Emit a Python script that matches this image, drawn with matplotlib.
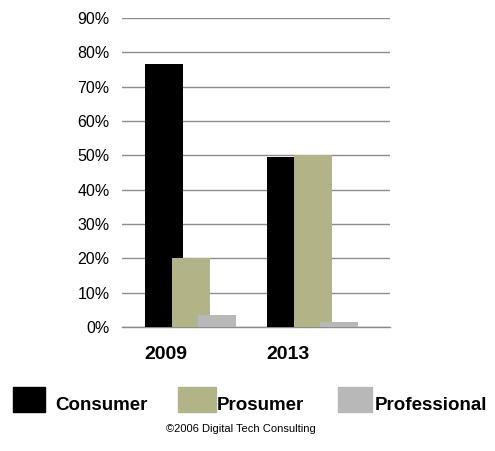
import numpy as np
import matplotlib
matplotlib.use('Agg')
import matplotlib.pyplot as plt
from matplotlib.patches import Rectangle

plt.rcParams['font.family'] = ['Liberation Sans', 'DejaVu Sans']

# Data
years = ['2009', '2013']
series = ['Consumer', 'Prosumer', 'Professional']
consumer = [0.765, 0.495]
prosumer = [0.20, 0.50]
professional = [0.035, 0.015]
colors = ['#000000', '#B2B488', '#B8B8B8']
yticks = np.arange(0, 0.91, 0.1)

fig = plt.figure(figsize=(4.95, 4.51), dpi=100)
ax = fig.add_axes([0.2465, 0.275, 0.5415, 0.685])

x = np.arange(len(years))
width = 0.31
offsets = [-0.017, 0.204, 0.416]
for vals, off, col, name in zip([consumer, prosumer, professional], offsets, colors, series):
    ax.bar(x + off, vals, width=width, color=col, label=name, zorder=3)

ax.set_ylim(0, 0.9)
ax.set_xlim(-0.36, 1.83)
ax.set_yticks(yticks)
ax.set_yticklabels(['%d%%' % round(v * 100) for v in yticks], fontsize=11.5)
ax.set_xticks(x)
ax.set_xticklabels(years, fontsize=14, fontweight='bold')
ax.tick_params(axis='y', length=0, pad=9)
ax.tick_params(axis='x', length=0, pad=14)
ax.yaxis.grid(True, color='#8c8c8c', linewidth=1.0, zorder=0)
for s in ['top', 'right', 'left']:
    ax.spines[s].set_visible(False)
ax.spines['bottom'].set_color('#8c8c8c')
ax.spines['bottom'].set_linewidth(1.0)

# legend drawn by hand to match the spacing of the original
W, H = 495.0, 451.0
patch_x = [12.7, 178, 338]
patch_w = [32, 38, 34]
text_x = [55, 217, 375]
for px, pw, tx, col, name in zip(patch_x, patch_w, text_x, colors, series):
    fig.add_artist(Rectangle((px / W, 1 - 412 / H), pw / W, 25 / H,
                             transform=fig.transFigure, color=col))
    fig.text(tx / W, 1 - 410 / H, name, fontsize=13.5, fontweight='bold',
             va='baseline', ha='left')

fig.text(241 / W, 1 - 432 / H, '\u00a92006 Digital Tech Consulting',
         fontsize=8, ha='center', va='baseline')

fig.savefig('out.png', dpi=100)
